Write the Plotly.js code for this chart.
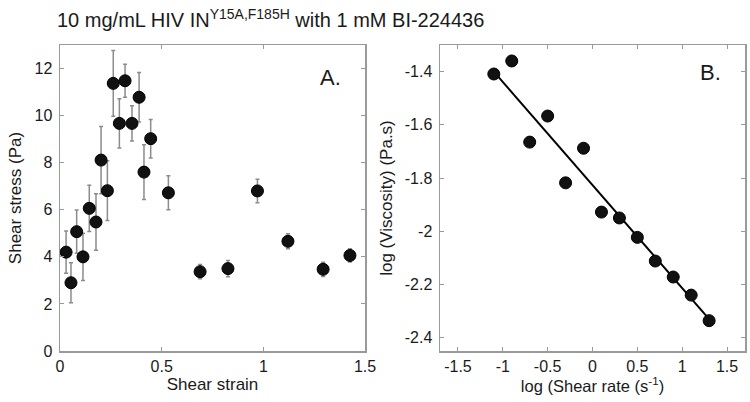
<!DOCTYPE html>
<html>
<head>
<meta charset="utf-8">
<script src="https://cdn.plot.ly/plotly-3.0.1.min.js"></script>
<style>html,body{margin:0;padding:0;background:#fff}#chart{width:750px;height:402px}</style>
</head>
<body>
<div id="chart"></div>
<script>
// Panel A: shear stress vs shear strain
const strainX = [0.03, 0.054, 0.082, 0.113, 0.144, 0.177, 0.202, 0.233, 0.262, 0.292, 0.32, 0.354, 0.389, 0.413, 0.446, 0.533, 0.689, 0.826, 0.971, 1.121, 1.294, 1.426];
const stressY = [4.2, 2.9, 5.07, 4.0, 6.06, 5.48, 8.11, 6.81, 11.37, 9.67, 11.48, 9.67, 10.78, 7.6, 9.02, 6.72, 3.37, 3.5, 6.8, 4.66, 3.47, 4.06];
const stressErr = [0.9, 0.85, 0.92, 1.0, 0.98, 1.2, 1.43, 1.27, 1.4, 1.05, 0.7, 0.75, 1.05, 1.16, 0.82, 0.72, 0.3, 0.35, 0.5, 0.32, 0.3, 0.28];

// Panel B: log viscosity vs log shear rate
const logRate = [-1.1, -0.9, -0.7, -0.5, -0.3, -0.1, 0.1, 0.3, 0.5, 0.7, 0.9, 1.1, 1.3];
const logVisc = [-1.409, -1.36, -1.665, -1.567, -1.818, -1.688, -1.928, -1.95, -2.023, -2.112, -2.172, -2.24, -2.336];
const fitX = [-1.1, 1.3];
const fitY = [-1.40, -2.33];

const xTicksA = [0, 0.5, 1, 1.5];
const yTicksA = [0, 2, 4, 6, 8, 10, 12];
const xTicksB = [-1.5, -1, -0.5, 0, 0.5, 1, 1.5];
const yTicksB = [-1.4, -1.6, -1.8, -2, -2.2, -2.4];

const FONT = 'Liberation Sans, Arial, sans-serif';
const axisGray = '#9a9a9a';

const traces = [
  {
    x: strainX, y: stressY, type: 'scatter', mode: 'markers', xaxis: 'x', yaxis: 'y',
    marker: {size: 12, color: '#111', line: {color: '#000', width: 1}},
    error_y: {type: 'data', array: stressErr, visible: true, color: '#8c8c8c', thickness: 1.5, width: 2}
  },
  {
    x: fitX, y: fitY, type: 'scatter', mode: 'lines', xaxis: 'x2', yaxis: 'y2',
    line: {color: '#000', width: 2}
  },
  {
    x: logRate, y: logVisc, type: 'scatter', mode: 'markers', xaxis: 'x2', yaxis: 'y2',
    marker: {size: 12, color: '#111', line: {color: '#000', width: 1}}
  }
];

function ax(extra) {
  return Object.assign({
    showgrid: false, zeroline: false, showline: true, linecolor: axisGray, linewidth: 1.5,
    mirror: 'ticks', ticks: 'inside', ticklen: 4, tickwidth: 1, tickcolor: axisGray,
    tickfont: {family: FONT, size: 16, color: '#1a1a1a'},
    ticklabelstandoff: 3
  }, extra);
}

const layout = {
  width: 750, height: 402,
  margin: {l: 0, r: 0, t: 0, b: 0},
  paper_bgcolor: '#fff', plot_bgcolor: '#fff',
  showlegend: false,
  font: {family: FONT, color: '#1a1a1a'},
  title: {
    text: '10 mg/mL HIV IN<sup>Y15A,F185H</sup> with 1 mM BI-224436',
    font: {family: FONT, size: 20, color: '#1a1a1a'},
    x: 57 / 750, xanchor: 'left', xref: 'paper',
    y: 1 - 20 / 402, yanchor: 'middle', yref: 'container'
  },
  xaxis: ax({domain: [60 / 750, 365 / 750], range: [0, 1.5], tickvals: xTicksA, ticktext: xTicksA.map(String),
    ticklabelstandoff: 0,
    title: {text: 'Shear strain', font: {family: FONT, size: 17, color: '#1a1a1a'}, standoff: 0}, anchor: 'y'}),
  yaxis: ax({domain: [51 / 402, 357 / 402], range: [0, 13], tickvals: yTicksA, ticktext: yTicksA.map(String),
    title: {text: 'Shear stress (Pa)', font: {family: FONT, size: 17, color: '#1a1a1a'}, standoff: 8}, anchor: 'x'}),
  xaxis2: ax({domain: [440 / 750, 745 / 750], range: [-1.7, 1.7], tickvals: xTicksB, ticktext: xTicksB.map(String),
    ticklabelstandoff: 0,
    title: {text: 'log (Shear rate (s<sup>-1</sup>)', font: {family: FONT, size: 16.5, color: '#1a1a1a'}, standoff: 0}, anchor: 'y2'}),
  yaxis2: ax({domain: [51 / 402, 357 / 402], range: [-2.45, -1.3], tickvals: yTicksB, ticktext: yTicksB.map(String),
    title: {text: 'log (Viscosity) (Pa.s)', font: {family: FONT, size: 17, color: '#1a1a1a'}, standoff: 8}, anchor: 'x2'}),
  annotations: [
    {text: 'A.', xref: 'x', yref: 'y', x: 1.33, y: 11.6, showarrow: false, font: {family: FONT, size: 22, color: '#1a1a1a'}},
    {text: 'B.', xref: 'x2', yref: 'y2', x: 1.32, y: -1.405, showarrow: false, font: {family: FONT, size: 22, color: '#1a1a1a'}}
  ]
};

Plotly.newPlot('chart', traces, layout, {displayModeBar: false, staticPlot: true});
</script>
</body>
</html>
